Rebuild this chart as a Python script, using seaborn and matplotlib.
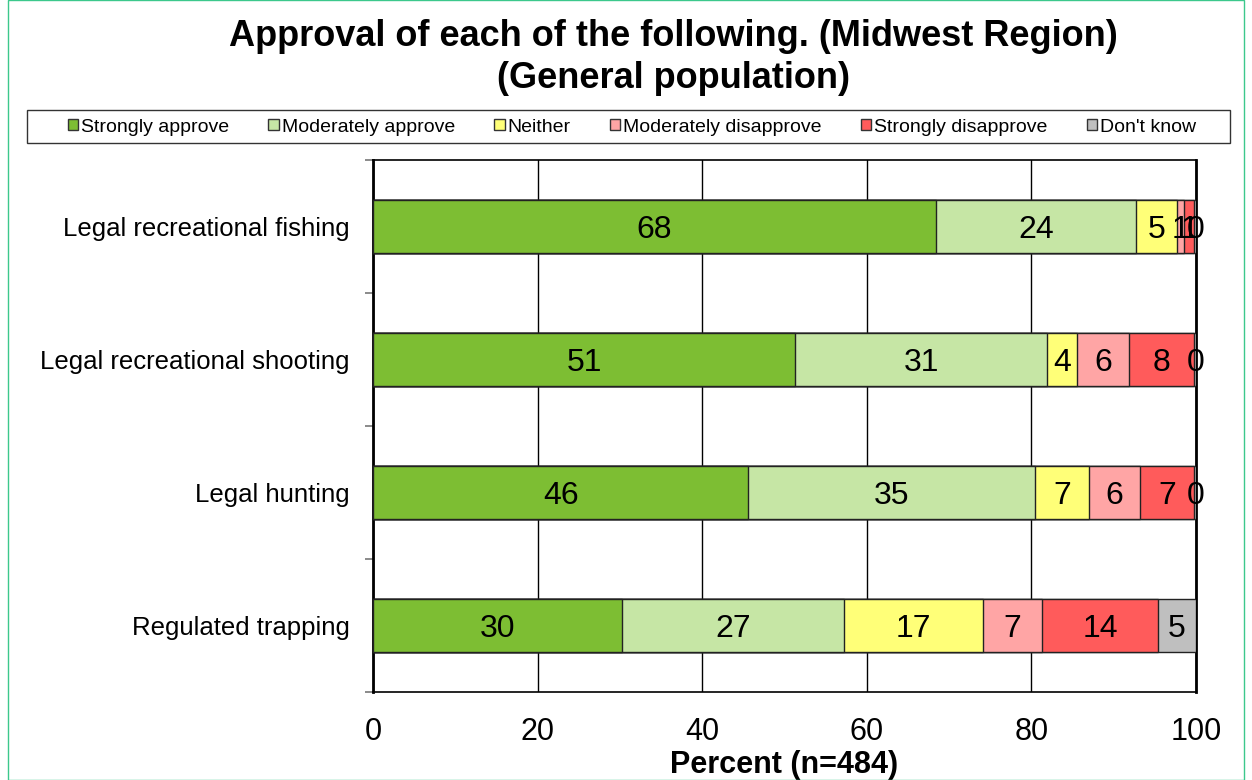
import matplotlib
matplotlib.use('Agg')
import matplotlib.pyplot as plt
import matplotlib.patches as mpatches
import numpy as np
import pandas as pd
import seaborn as sns

categories = ['Legal recreational fishing', 'Legal recreational shooting',
              'Legal hunting', 'Regulated trapping']
series = ['Strongly approve', 'Moderately approve', 'Neither',
          'Moderately disapprove', 'Strongly disapprove', "Don't know"]
strongly_approve = [68.4, 51.3, 45.6, 30.3]
moderately_approve = [24.3, 30.6, 34.8, 26.9]
neither = [5.0, 3.6, 6.6, 16.9]
moderately_disapprove = [0.8, 6.4, 6.2, 7.2]
strongly_disapprove = [1.3, 7.9, 6.6, 14.1]
dont_know = [0.2, 0.2, 0.2, 4.6]
colors = ['#7DBE33', '#C6E6A5', '#FFFF78', '#FFA5A5', '#FF5B5B', '#BFBFBF']

sns.set_style('white')
plt.rcParams['font.family'] = ['Liberation Sans', 'DejaVu Sans']
plt.rcParams['text.color'] = 'black'
plt.rcParams['axes.labelcolor'] = 'black'
plt.rcParams['xtick.color'] = 'black'
plt.rcParams['ytick.color'] = 'black'

vals = np.array([strongly_approve, moderately_approve, neither,
                 moderately_disapprove, strongly_disapprove, dont_know])
cum = np.cumsum(vals, axis=0)

fig = plt.figure(figsize=(12.52, 7.8), dpi=100)
ax = fig.add_axes([373/1252, 1-692/780, (1196-373)/1252, (692-160)/780])

# stacked bars: draw cumulative totals from the right end back
for i in range(len(series)-1, -1, -1):
    df = pd.DataFrame({'cat': categories, 'val': cum[i]})
    sns.barplot(data=df, x='val', y='cat', color=colors[i], width=0.4,
                edgecolor='#222222', linewidth=1, saturation=1, ax=ax, zorder=3)

for i in range(len(series)):
    for j in range(len(categories)):
        center = cum[i][j] - vals[i][j]/2
        ax.text(center, j, f'{vals[i][j]:.0f}', ha='center', va='center_baseline',
                fontsize=23, color='black', zorder=5)

ax.set_xlim(0, 100)
ax.set_ylim(3.5, -0.5)
ax.set_xticks([0, 20, 40, 60, 80, 100])
ax.tick_params(axis='x', labelsize=22, length=0, pad=18)
ax.tick_params(axis='y', which='major', labelsize=18.5, length=0, pad=17)
ax.set_yticks(np.arange(-0.5, 4, 1), minor=True)
ax.tick_params(axis='y', which='minor', left=True, length=6, color='#777777', width=1.2)
ax.grid(axis='x', color='black', linewidth=1, zorder=0)
ax.set_axisbelow(True)
for s in ax.spines.values():
    s.set_color('black')
    s.set_linewidth(1.2)
ax.spines['left'].set_linewidth(2)
ax.spines['right'].set_linewidth(2)
ax.set_ylabel('')
ax.set_xlabel('Percent (n=484)', fontsize=22, fontweight='bold', labelpad=2)

fig.text(0.538, 1-37/780, 'Approval of each of the following. (Midwest Region)',
         ha='center', va='center', fontsize=26, fontweight='bold')
fig.text(0.538, 1-79/780, '(General population)',
         ha='center', va='center', fontsize=26, fontweight='bold')

handles = [mpatches.Patch(facecolor=c, edgecolor='#333333', label=s)
           for s, c in zip(series, colors)]
leg = fig.legend(handles=handles, ncol=6, loc='center',
                 bbox_to_anchor=(632/1252, 1-127/780),
                 fontsize=14, frameon=False,
                 handlelength=0.55, handleheight=0.55, handletextpad=0.15,
                 borderaxespad=0, columnspacing=2.0)

fig.patches.append(mpatches.Rectangle((27/1252, 1-143/780), (1230-27)/1252, 33/780,
                                      transform=fig.transFigure, fill=False,
                                      edgecolor='#333333', linewidth=1))
fig.patches.append(mpatches.Rectangle((8/1252, 0), 1-16/1252, 1, transform=fig.transFigure,
                                      fill=False, edgecolor='#3CC88C', linewidth=1))

fig.savefig('out.png', dpi=100)
